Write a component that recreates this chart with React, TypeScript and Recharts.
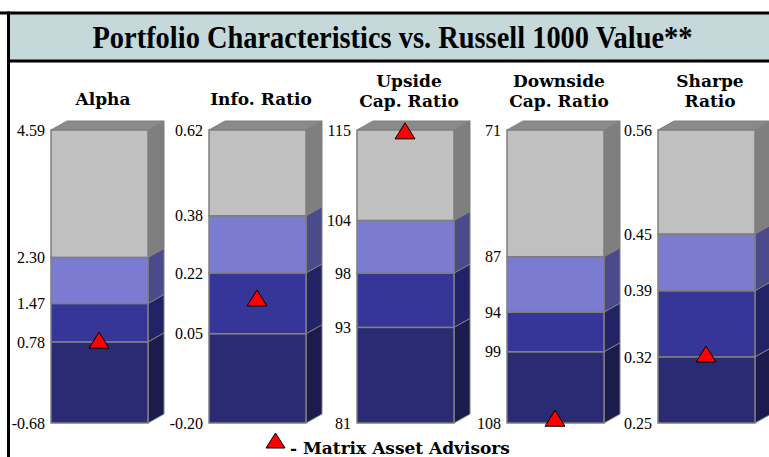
import { ComposedChart, Bar, Scatter, XAxis, YAxis } from 'recharts';

// quartile band edges, bottom -> top
const alphaBounds = [-0.68, 0.78, 1.47, 2.3, 4.59];
const infoBounds = [-0.2, 0.05, 0.22, 0.38, 0.62];
const upsideBounds = [81, 92.1, 98.4, 104.5, 115];
const downsideBounds = [108, 99, 94, 87, 71];
const sharpeBounds = [0.25, 0.32, 0.39, 0.45, 0.56];

const alphaLabels = ['-0.68', '0.78', '1.47', '2.30', '4.59'];
const infoLabels = ['-0.20', '0.05', '0.22', '0.38', '0.62'];
const upsideLabels = ['81', '93', '98', '104', '115'];
const downsideLabels = ['108', '99', '94', '87', '71'];
const sharpeLabels = ['0.25', '0.32', '0.39', '0.45', '0.56'];

const titles = [['Alpha'], ['Info. Ratio'], ['Upside', 'Cap. Ratio'], ['Downside', 'Cap. Ratio'], ['Sharpe', 'Ratio']];
// Matrix Asset Advisors portfolio value
const portfolio = [0.81, 0.15, 114.9, 107.4, 0.323];

const panels = [
  { bounds: alphaBounds, labels: alphaLabels },
  { bounds: infoBounds, labels: infoLabels },
  { bounds: upsideBounds, labels: upsideLabels },
  { bounds: downsideBounds, labels: downsideLabels, reversed: true },
  { bounds: sharpeBounds, labels: sharpeLabels },
];

const frontX = [50, 208, 356, 506, 657];

const FRONT = ['#2b2b73', '#363699', '#7b7bd2', '#c0c0c0'];
const SIDE = ['#1c1c4c', '#222266', '#4b4b8b', '#7f7f7f'];
const EDGE = '#7f7f7f';
const DX = 16;
const DY = 9;
const SERIF = 'DejaVu Serif';

const Segment = (props: any) => {
  const { x, y, width, height, idx } = props;
  const top = Math.min(y, y + height);
  const bot = Math.max(y, y + height);
  const r = x + width;
  return (
    <g>
      <polygon
        points={`${r},${top} ${r + DX},${top - DY} ${r + DX},${bot - DY} ${r},${bot}`}
        fill={SIDE[idx]}
        stroke={EDGE}
        strokeWidth={1}
      />
      {idx === 3 && (
        <polygon
          points={`${x},${top} ${x + DX},${top - DY} ${r + DX},${top - DY} ${r},${top}`}
          fill="#8a8a8a"
          stroke={EDGE}
          strokeWidth={1}
        />
      )}
      <rect x={x} y={top} width={width} height={bot - top} fill={FRONT[idx]} stroke={EDGE} strokeWidth={1.5} />
    </g>
  );
};

const Triangle = (props: any) => {
  const { cx, cy } = props;
  return (
    <polygon
      points={`${cx},${cy - 8} ${cx - 10},${cy + 8} ${cx + 10},${cy + 8}`}
      fill="#ff0000"
      stroke="#000"
      strokeWidth={1}
    />
  );
};

const Panel = ({ i }: { i: number }) => {
  const p = panels[i];
  const b = p.bounds;
  const row: any = { name: titles[i].join(' '), mark: portfolio[i] };
  for (let k = 0; k < 4; k++) {
    row['s' + k] = [Math.min(b[k], b[k + 1]), Math.max(b[k], b[k + 1])];
  }
  const lo = Math.min(...b);
  const hi = Math.max(...b);
  return (
    <div style={{ position: 'absolute', left: frontX[i] - 45, top: 0 }}>
      <ComposedChart
        width={163}
        height={457}
        data={[row]}
        margin={{ top: 130, right: 20, bottom: 34, left: 0 }}
        barGap={-97}
        barCategoryGap={0}
      >
        <XAxis dataKey="name" hide />
        <YAxis
          type="number"
          domain={[lo, hi]}
          ticks={b}
          interval={0}
          reversed={!!p.reversed}
          width={45}
          axisLine={false}
          tickLine={false}
          tickSize={0}
          tickMargin={5}
          tick={{ fill: '#000', fontSize: 16, fontFamily: 'Liberation Serif' }}
          tickFormatter={(v: number) => p.labels[b.indexOf(v)]}
        />
        {[0, 1, 2, 3].map((k) => (
          <Bar
            key={k}
            dataKey={'s' + k}
            barSize={97}
            isAnimationActive={false}
            shape={(sp: any) => <Segment {...sp} idx={k} />}
          />
        ))}
        <Scatter dataKey="mark" shape={Triangle} isAnimationActive={false} />
      </ComposedChart>
    </div>
  );
};

export default function App() {
  return (
    <div style={{ position: 'absolute', left: 0, top: 0, width: 769, height: 457, overflow: 'hidden', background: '#fff' }}>
      <svg width={769} height={457} style={{ position: 'absolute', left: 0, top: 0 }}>
        <rect x={8} y={13} width={780} height={48} fill="#c5d9da" />
        <line x1={0} y1={13} x2={790} y2={13} stroke="#000" strokeWidth={3} />
        <line x1={8} y1={61} x2={790} y2={61} stroke="#000" strokeWidth={3} />
        <line x1={8.5} y1={11.5} x2={8.5} y2={457} stroke="#000" strokeWidth={3} />
        <text
          x={392.5}
          y={48}
          textAnchor="middle"
          fontFamily="Liberation Serif"
          fontWeight="bold"
          fontSize={31}
          textLength={600}
          lengthAdjust="spacingAndGlyphs"
        >
          Portfolio Characteristics vs. Russell 1000 Value**
        </text>
        {titles.map((t, i) =>
          t.map((line, j) => (
            <text
              key={i + '-' + j}
              x={frontX[i] + 53}
              y={t.length === 1 ? 105 : 87 + j * 20}
              textAnchor="middle"
              fontFamily={SERIF}
              fontWeight="bold"
              fontSize={17}
            >
              {line}
            </text>
          ))
        )}
        <polygon points="275.5,433 266,448 285,448" fill="#ff0000" stroke="#000" strokeWidth={1} />
        <text x={290} y={454} fontFamily={SERIF} fontWeight="bold" fontSize={17}>
          - Matrix Asset Advisors
        </text>
      </svg>
      {panels.map((_, i) => (
        <Panel key={i} i={i} />
      ))}
    </div>
  );
}
